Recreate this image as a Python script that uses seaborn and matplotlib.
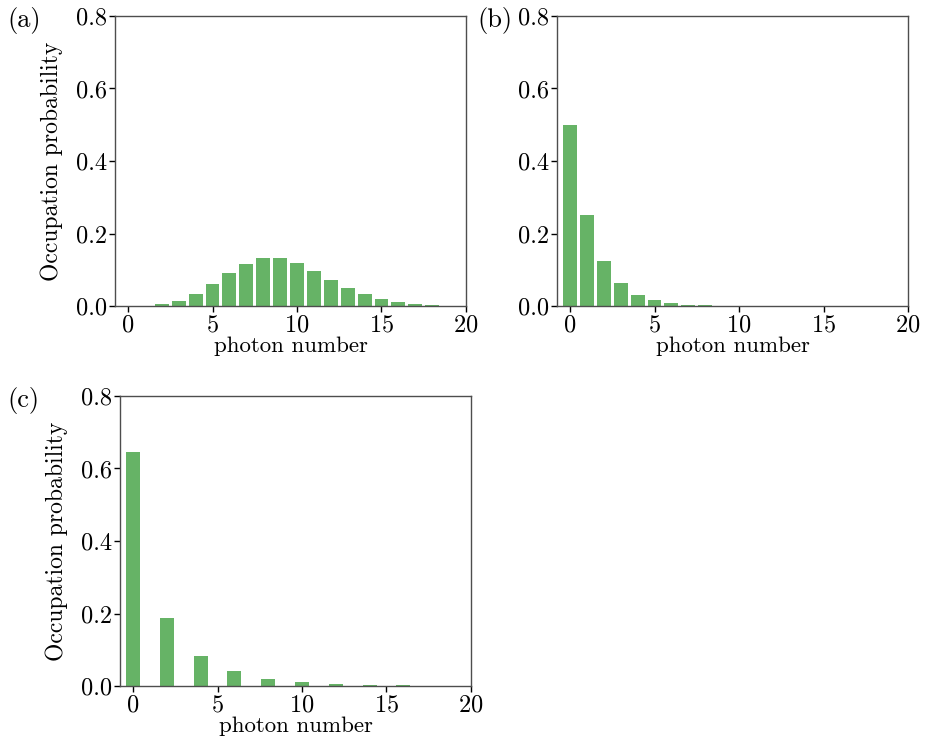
import matplotlib
matplotlib.use("Agg")
import matplotlib.pyplot as plt
import seaborn as sns
import pandas as pd

# === data ===
photon_n = list(range(20))

# (a) coherent state
prob_a = [0.0001, 0.0011, 0.0050, 0.0150, 0.0337, 0.0607, 0.0911, 0.1171,
          0.1318, 0.1318, 0.1186, 0.0970, 0.0728, 0.0504, 0.0324, 0.0194,
          0.0109, 0.0058, 0.0029, 0.0014]

# (b) thermal state
prob_b = [0.5, 0.25, 0.125, 0.0625, 0.0313, 0.0156, 0.0078, 0.0039,
          0.0020, 0.0010, 0.0005, 0.0002, 0.0001, 0.0001, 0.0, 0.0,
          0.0, 0.0, 0.0, 0.0]

# (c) squeezed vacuum (odd numbers empty)
prob_c = [0.645, 0.0, 0.188, 0.0, 0.0825, 0.0, 0.0401, 0.0, 0.0205, 0.0,
          0.0108, 0.0, 0.0058, 0.0, 0.0031, 0.0, 0.0017, 0.0, 0.0010, 0.0]

panel_labels = ["(a)", "(b)", "(c)"]

# === style ===
sns.set_style("ticks")
plt.rcParams["font.family"] = ["cmr10", "DejaVu Serif"]
plt.rcParams["axes.formatter.use_mathtext"] = True
plt.rcParams["mathtext.fontset"] = "cm"
for key in ["text.color", "axes.labelcolor", "xtick.color", "ytick.color"]:
    plt.rcParams[key] = "black"
fs = 16.5
tick_fs = 17.5
bar_color = "#66b366"
spine_color = "0.3"

fig = plt.figure(figsize=(9.26, 7.36), dpi=100)
positions = [
    [0.1242, 0.5842, 0.3790, 0.3941],
    [0.6015, 0.5842, 0.3791, 0.3941],
    [0.1296, 0.0679, 0.3790, 0.3941],
]
all_probs = [prob_a, prob_b, prob_c]

for i, (pos, probs) in enumerate(zip(positions, all_probs)):
    ax = fig.add_axes(pos)
    df = pd.DataFrame({"n": photon_n, "p": probs})
    sns.barplot(data=df, x="n", y="p", native_scale=True, color=bar_color,
                saturation=1, width=0.82, linewidth=0, ax=ax)
    ax.set_xlim(-0.77, 20)
    ax.set_ylim(0, 0.8)
    ax.set_xticks([0, 5, 10, 15, 20])
    ax.set_yticks([0.0, 0.2, 0.4, 0.6, 0.8])
    ax.set_yticklabels(["0.0", "0.2", "0.4", "0.6", "0.8"])
    ax.tick_params(labelsize=tick_fs, color="black", length=4, width=1, pad=2)
    ax.set_xlabel("photon number", fontsize=fs, labelpad=0)
    if i != 1:
        ax.set_ylabel("Occupation probability", fontsize=17, labelpad=9)
    else:
        ax.set_ylabel("")
    for side in ["left", "right", "top", "bottom"]:
        ax.spines[side].set_visible(True)
        ax.spines[side].set_color(spine_color)
        ax.spines[side].set_linewidth(1.0)

# panel labels
lab_fs = 19
fig.text(7 / 926, 1 - 20 / 736, panel_labels[0], fontsize=lab_fs, va="center", ha="left")
fig.text(477 / 926, 1 - 20 / 736, panel_labels[1], fontsize=lab_fs, va="center", ha="left")
fig.text(7 / 926, 1 - 400 / 736, panel_labels[2], fontsize=lab_fs, va="center", ha="left")

fig.savefig("out.png", dpi=100)
